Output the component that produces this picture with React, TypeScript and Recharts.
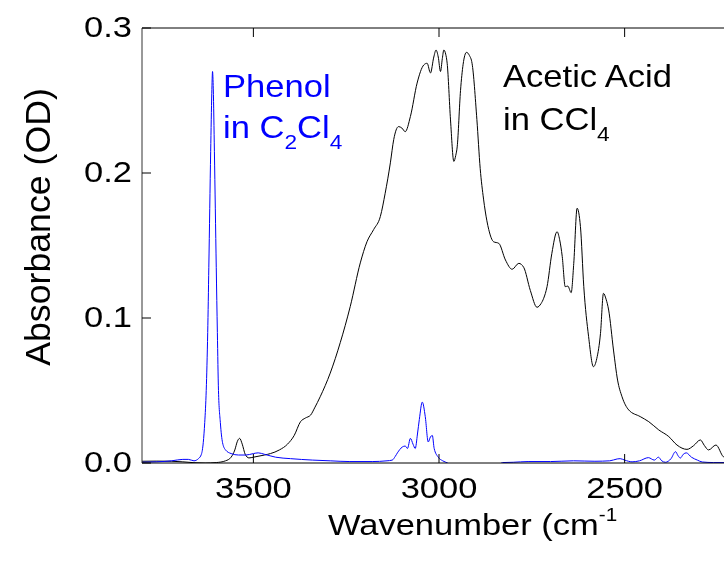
import { LineChart, Line, XAxis, YAxis } from 'recharts'

const FONT = '"Liberation Sans", Arial, Helvetica, sans-serif'

// acetic acid in CCl4 (black)
const acidWn = [
  3800, 3760, 3720, 3690, 3660, 3630, 3600, 3575, 3560, 3550, 3543, 3537, 3530, 3522, 3512, 3500,
  3470, 3454, 3430, 3408, 3390, 3373, 3360, 3346, 3335, 3320, 3293, 3266, 3239, 3212, 3194, 3176,
  3158, 3145, 3131, 3122, 3109, 3100, 3091, 3077, 3059, 3041, 3032, 3023, 3014, 3008, 3002, 2996,
  2991, 2987, 2982, 2978, 2969, 2960, 2955, 2951, 2942, 2935, 2926, 2918, 2911, 2898, 2889, 2880,
  2871, 2866, 2853, 2839, 2821, 2803, 2785, 2772, 2754, 2736, 2725, 2718, 2709, 2696, 2682, 2675,
  2668, 2660, 2653, 2644, 2637, 2628, 2619, 2610, 2597, 2584, 2575, 2565, 2557, 2550, 2543, 2530,
  2519, 2507, 2489, 2458, 2435, 2408, 2381, 2359, 2332, 2314, 2296, 2285, 2274, 2254, 2234, 2210,
  2200,
]
const acidAbs = [
  0.0012, 0.0013, 0.0012, 0.0008, 0.0002, 0.0, 0.0003, 0.0015, 0.004, 0.009, 0.015, 0.017, 0.013, 0.006, 0.0035, 0.004,
  0.0055, 0.0065, 0.009, 0.013, 0.019, 0.0285, 0.031, 0.033, 0.038, 0.0457, 0.062, 0.083, 0.108, 0.138, 0.1526, 0.161,
  0.17, 0.186, 0.207, 0.223, 0.232, 0.231, 0.2285, 0.239, 0.262, 0.2745, 0.2757, 0.269, 0.28, 0.2848, 0.28, 0.27,
  0.279, 0.2848, 0.282, 0.2757, 0.2366, 0.208, 0.212, 0.218, 0.257, 0.275, 0.2832, 0.281, 0.2757, 0.237, 0.203, 0.182,
  0.167, 0.161, 0.1526, 0.1515, 0.14, 0.1336, 0.1377, 0.135, 0.119, 0.1074, 0.11, 0.1136, 0.1216, 0.1446, 0.1595, 0.154,
  0.1423, 0.1216, 0.122, 0.1175, 0.1377, 0.1757, 0.163, 0.1216, 0.0871, 0.0664, 0.072, 0.0894, 0.117, 0.113, 0.1055, 0.0779,
  0.0572, 0.0457, 0.0366, 0.032, 0.0285, 0.0228, 0.0182, 0.0124, 0.0094, 0.012, 0.0159, 0.012, 0.009, 0.0124, 0.0043, 0.002,
  0.002,
]

// phenol in C2Cl4 (blue)
const phenolWn = [
  3800, 3760, 3720, 3690, 3675, 3660, 3648, 3640, 3635, 3631, 3627, 3623, 3620, 3615, 3612, 3610,
  3608, 3605, 3600, 3597, 3594, 3589, 3583, 3575, 3560, 3540, 3520, 3500, 3487, 3470, 3440, 3400,
  3340, 3293, 3240, 3180, 3140, 3126, 3118, 3112, 3099, 3091, 3085, 3077, 3070, 3064, 3058, 3053,
  3045, 3037, 3029, 3023, 3018, 3013, 3002, 2990, 2977, 2965, 2940, 2900, 2860, 2835, 2829, 2800,
  2760, 2700, 2638, 2580, 2540, 2520, 2512, 2500, 2480, 2460, 2436, 2420, 2409, 2400, 2390, 2375,
  2363, 2356, 2350, 2342, 2334, 2320, 2304, 2291, 2260, 2200,
]
const phenolAbs = [
  0.0005, 0.0008, 0.0015, 0.0025, 0.0025, 0.0015, 0.003, 0.006, 0.014, 0.028, 0.05, 0.09, 0.135, 0.215, 0.255, 0.27,
  0.258, 0.215, 0.135, 0.09, 0.05, 0.028, 0.014, 0.009, 0.0065, 0.0055, 0.0055, 0.0065, 0.007, 0.006, 0.004, 0.003,
  0.002, 0.0015, 0.001, 0.001, 0.0015, 0.002, 0.0045, 0.007, 0.011, 0.0117, 0.01, 0.017, 0.013, 0.01, 0.02, 0.03,
  0.042, 0.032, 0.0145, 0.018, 0.019, 0.01, 0.004, 0.0015, 0.0, -0.002, -0.003, -0.003, -0.002, -0.0005, 0.0003, 0.0005,
  0.001, 0.001, 0.0015, 0.0012, 0.0015, 0.0028, 0.003, 0.002, 0.0008, 0.0015, 0.0037, 0.002, 0.004, 0.0015, 0.0005, 0.003,
  0.0078, 0.005, 0.0034, 0.006, 0.007, 0.004, 0.002, 0.0007, 0.0003, 0.0003,
]

const xTicks = [3500, 3000, 2500]
const yTicks = [0, 0.1, 0.2, 0.3]

const acid = acidWn.map((wn, i) => ({ wn, abs: acidAbs[i] }))
const phenol = phenolWn.map((wn, i) => ({ wn, abs: phenolAbs[i] }))

const SX = 1.15 // the original art is a little stretched sideways
const SXN = 1.08 // for the in-plot notes

function BottomTick({ x, y, payload }: any) {
  return (
    <g>
      <line x1={x} x2={x} y1={y} y2={y - 9} stroke="#000" />
      <text transform={`translate(${x},${y + 35}) scale(${SX},1)`} textAnchor="middle"
        fontSize={30} fontFamily={FONT} fill="#000">{payload.value}</text>
    </g>
  )
}

function TopTick({ x, y }: any) {
  return <line x1={x} x2={x} y1={y} y2={y + 9} stroke="#000" />
}

function LeftTick({ x, y, payload }: any) {
  return (
    <g>
      <line x1={x} x2={x + 9} y1={y} y2={y} stroke="#000" />
      <text transform={`translate(${x - 10},${y + 9}) scale(${SX},1)`} textAnchor="end"
        fontSize={30} fontFamily={FONT} fill="#000">{Number(payload.value).toFixed(1)}</text>
    </g>
  )
}

export default function App() {
  return (
    <div style={{ position: 'fixed', left: 0, top: 0, width: 724, height: 563, overflow: 'hidden' }}>
      <LineChart width={750} height={563} margin={{ top: 27, right: 14, bottom: 40, left: 0 }}>
        <XAxis xAxisId="b" dataKey="wn" type="number" domain={[2200, 3800]} reversed
          ticks={xTicks} height={60} tickSize={0} tickMargin={0} tickLine={false}
          axisLine={{ stroke: '#000' }} tick={<BottomTick />} allowDataOverflow />
        <XAxis xAxisId="t" orientation="top" dataKey="wn" type="number" domain={[2200, 3800]} reversed
          ticks={xTicks} height={1} tickSize={0} tickMargin={0} tickLine={false}
          axisLine={{ stroke: '#000' }} tick={<TopTick />} allowDataOverflow />
        <YAxis dataKey="abs" type="number" domain={[0, 0.3]} ticks={yTicks} width={142}
          tickSize={0} tickMargin={0} tickLine={false} axisLine={{ stroke: '#333' }}
          tick={<LeftTick />} allowDataOverflow />
        <Line xAxisId="b" data={acid} dataKey="abs" type="monotone" stroke="#000" strokeWidth={1}
          dot={false} isAnimationActive={false} />
        <Line xAxisId="b" data={phenol} dataKey="abs" type="monotone" stroke="#0000ff" strokeWidth={1}
          dot={false} isAnimationActive={false} />
        <text transform={`translate(50,227) scale(${SX},1.19) rotate(-90)`} textAnchor="middle"
          fontSize={30} fontFamily={FONT} fill="#000">Absorbance (OD)</text>
        <text transform={`translate(328,535) scale(${SX},1)`} fontSize={30} fontFamily={FONT} fill="#000">
          Wavenumber (cm<tspan fontSize={18} dy={-14}>-1</tspan>
        </text>
        <text transform={`translate(223,97) scale(${SXN},1)`} fontSize={32} fontFamily={FONT} fill="#0000ff">
          Phenol
        </text>
        <text transform={`translate(223,138) scale(${SXN},1)`} fontSize={32} fontFamily={FONT} fill="#0000ff">
          in C<tspan fontSize={21} dy={11}>2</tspan><tspan dy={-11}>Cl</tspan><tspan fontSize={21} dy={11}>4</tspan>
        </text>
        <text transform={`translate(503,87) scale(${SXN},1)`} fontSize={32} fontFamily={FONT} fill="#000">
          Acetic Acid
        </text>
        <text transform={`translate(503,130) scale(${SXN},1)`} fontSize={32} fontFamily={FONT} fill="#000">
          in CCl<tspan fontSize={21} dy={11}>4</tspan>
        </text>
      </LineChart>
    </div>
  )
}
